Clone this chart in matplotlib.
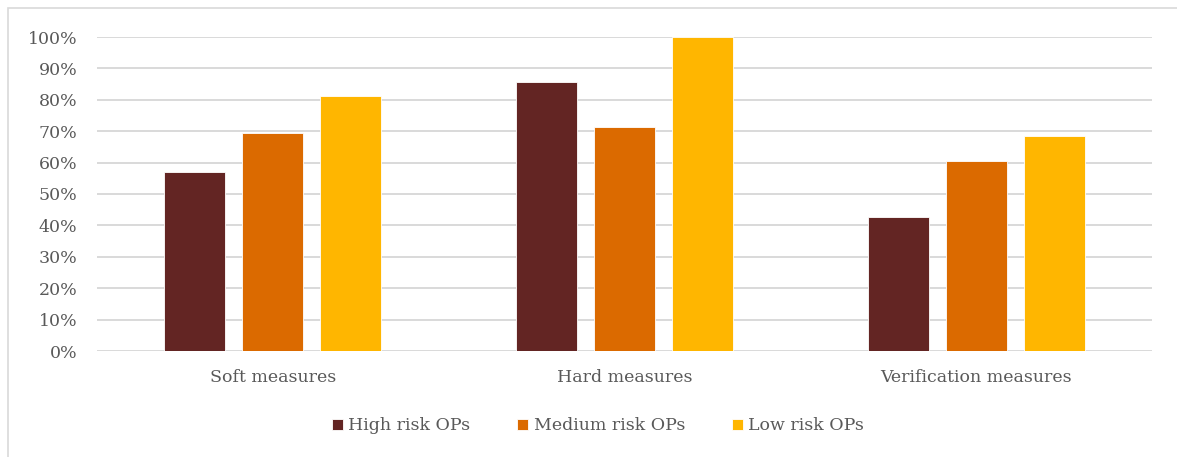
import numpy as np
from matplotlib import pyplot as plt
from matplotlib.patches import Rectangle
from matplotlib.ticker import PercentFormatter

categories = ["Soft measures", "Hard measures", "Verification measures"]
series = ["High risk OPs", "Medium risk OPs", "Low risk OPs"]
high_risk = [57.0, 85.7, 42.8]
medium_risk = [69.4, 71.3, 60.6]
low_risk = [81.1, 100.0, 68.6]
colors = ["#632523", "#DB6A00", "#FFB600"]

plt.rcParams["font.family"] = ["DejaVu Serif"]
text_color = "#595959"

fig = plt.figure(figsize=(11.77, 4.57), dpi=100)
ax = fig.add_axes([97 / 1177, 1 - 351 / 457, 1055 / 1177, 314 / 457])

x = np.arange(len(categories))
width = 0.174
step = 0.222
for i, (vals, name) in enumerate(zip([high_risk, medium_risk, low_risk], series)):
    ax.bar(x + (i - 1) * step, vals, width, color=colors[i], label=name,
           edgecolor="white", linewidth=0.6, zorder=3)

ax.set_xlim(-0.5, len(categories) - 0.5)
ax.set_ylim(0, 100)
ax.set_yticks(np.arange(0, 101, 10))
ax.yaxis.set_major_formatter(PercentFormatter(decimals=0))
ax.set_xticks(x)
ax.set_xticklabels(categories)
ax.grid(axis="y", color="#d9d9d9", linewidth=1.4, zorder=0)
ax.tick_params(axis="both", length=0, labelsize=12.5, colors=text_color)
ax.tick_params(axis="y", pad=14)
ax.tick_params(axis="x", pad=13)
for s in ax.spines.values():
    s.set_visible(False)

leg = fig.legend(loc="center", bbox_to_anchor=(0.508, 1 - 426 / 457), ncol=3,
                 frameon=False, fontsize=12.5, handlelength=0.65, handleheight=0.65,
                 handletextpad=0.3, columnspacing=2.7)
for t in leg.get_texts():
    t.set_color(text_color)

# outer frame of the chart
fig.patches.append(Rectangle((8 / 1177, -0.01), 1.0, 1 - 8 / 457 + 0.01,
                             transform=fig.transFigure, fill=False,
                             edgecolor="#d9d9d9", linewidth=1.2))

fig.savefig("out.png", dpi=100)
